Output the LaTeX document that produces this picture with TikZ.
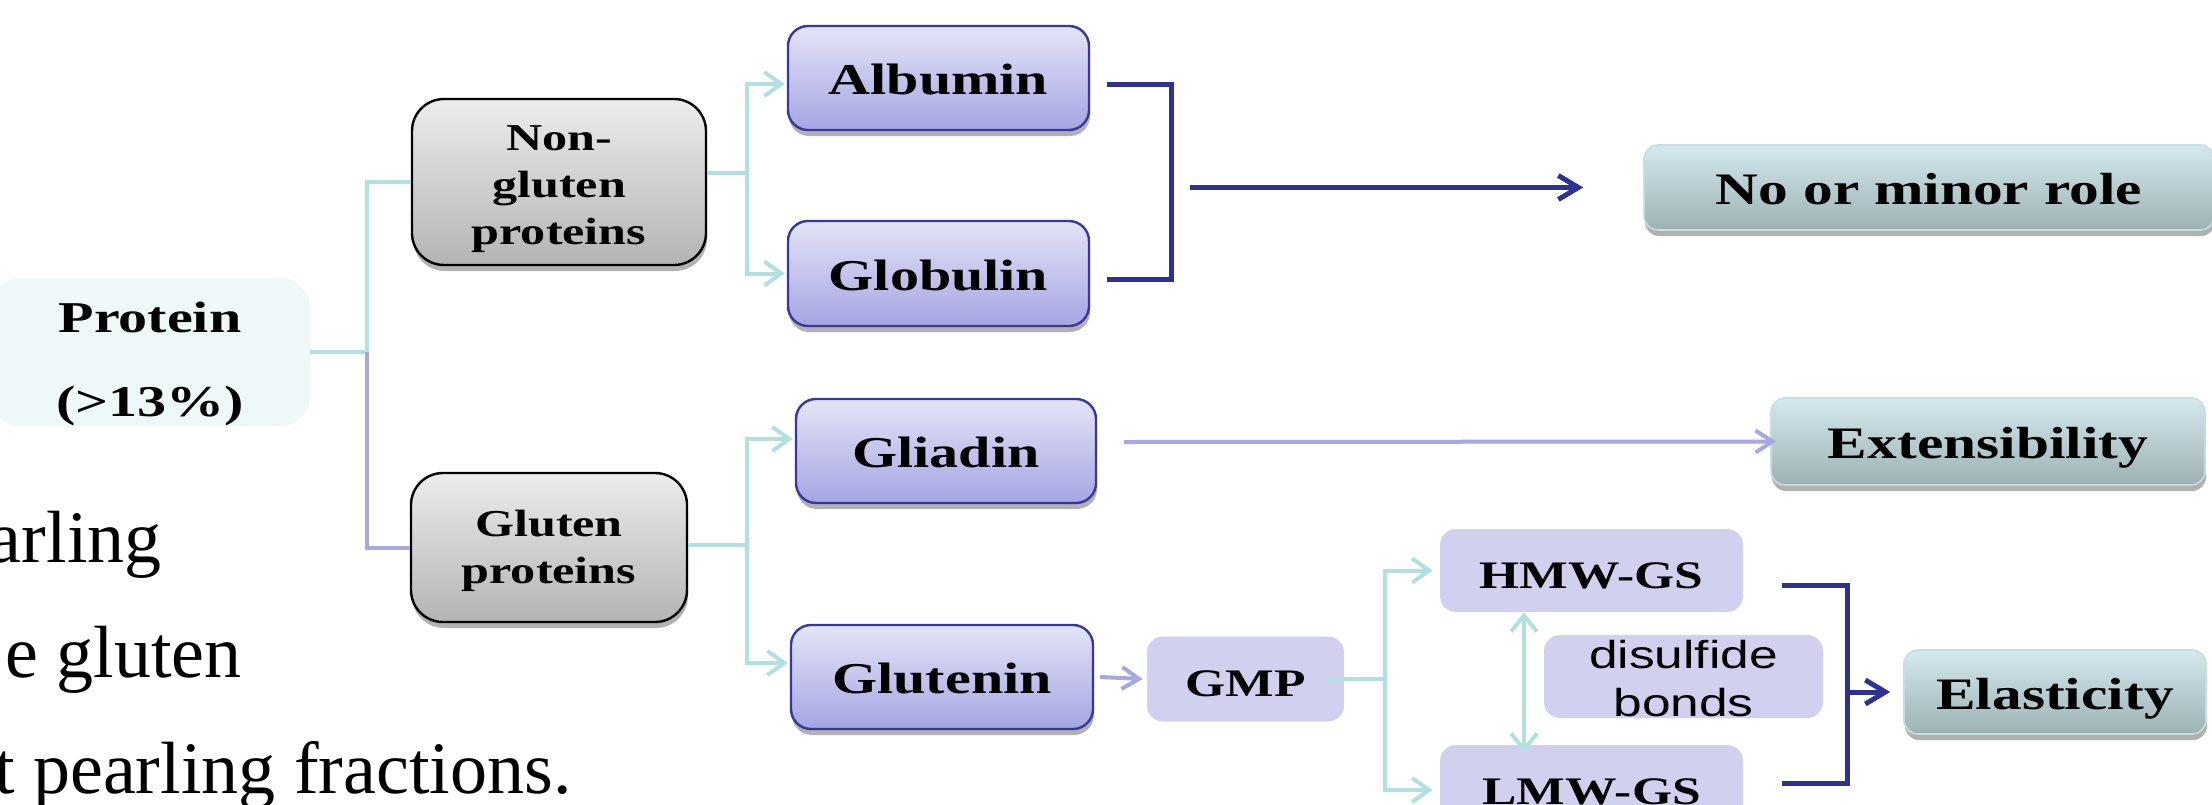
\documentclass[tikz,border=0pt]{standalone}
\usepackage{fontspec}
\setmainfont{Liberation Serif}
\newfontfamily\bxf[FakeStretch=1.32]{Liberation Serif}
\newfontfamily\sxf[FakeStretch=1.32]{Liberation Sans}
\usetikzlibrary{arrows.meta,shadows}
\definecolor{cyanln}{HTML}{B2DFDF}
\definecolor{purpln}{HTML}{A7A7E2}
\definecolor{dblue}{HTML}{2E3192}
\definecolor{pbord}{HTML}{38389C}
\definecolor{ptop}{HTML}{E4E4F7}
\definecolor{pbot}{HTML}{A5A5E3}
\definecolor{gtop}{HTML}{ECECEC}
\definecolor{gbot}{HTML}{B4B4B4}
\definecolor{ttop}{HTML}{D3E9ED}
\definecolor{tbot}{HTML}{9DB2B5}
\definecolor{tbord}{HTML}{C5DEE1}
\definecolor{lav}{HTML}{D1D1EF}
\definecolor{pfill}{HTML}{EFF8F8}
\tikzset{
  shd/.style={drop shadow={shadow xshift=0.5pt,shadow yshift=-3pt,opacity=0.3,fill=black}},
  basebox/.style={inner sep=0pt,align=center,text=black},
  protbox/.style={basebox,fill=pfill,rounded corners=15pt,font=\bxf\bfseries\fontsize{22}{42}\selectfont,text height=68.6pt,text depth=4pt},
  greybox/.style={basebox,shd,draw=black,line width=1.2pt,rounded corners=16pt,top color=gtop,bottom color=gbot,font=\bxf\bfseries\fontsize{19}{23.5}\selectfont},
  purpbox/.style={basebox,shd,draw=pbord,line width=1.2pt,rounded corners=10pt,top color=ptop,bottom color=pbot,font=\bxf\bfseries\fontsize{22}{26}\selectfont,text height=16.6pt,text depth=0pt},
  lavbox/.style={basebox,fill=lav,rounded corners=8pt,font=\bxf\bfseries\fontsize{19.5}{23}\selectfont,text height=17.9pt,text depth=0pt},
  sanslav/.style={basebox,fill=lav,rounded corners=8pt,font=\sxf\fontsize{19.5}{24}\selectfont,text height=40.2pt,text depth=0pt},
  tealbox/.style={basebox,shd,draw=tbord,line width=0.8pt,rounded corners=7pt,top color=ttop,bottom color=tbot,font=\bxf\bfseries\fontsize{22.5}{26}\selectfont,text height=17pt,text depth=0pt},
  bgtext/.style={inner sep=0pt,font=\fontsize{37}{44}\selectfont,text=black},
  cyanline/.style={draw=cyanln,line width=2pt},
  purpline/.style={draw=purpln,line width=2pt},
  cyanarr/.style={cyanline,-{Straight Barb[length=8.5pt,width=12pt]}},
  cyandbl/.style={cyanline,{Straight Barb[length=8pt,width=13pt]}-{Straight Barb[length=8pt,width=13pt]}},
  purparr/.style={purpline,-{Straight Barb[length=8.5pt,width=11pt]}},
  bracket/.style={draw=dblue,line width=2.5pt},
  bluearr/.style={draw=dblue,line width=2.5pt,-{Straight Barb[length=10pt,width=12pt]}}
}
\begin{document}
\begin{tikzpicture}[x=0.5pt,y=-0.5pt]
\useasboundingbox (0,0) rectangle (2212,804);
\clip (0,0) rectangle (2212,804);
\fill[white] (0,0) rectangle (2212,804);

% background slide text
\node[bgtext,anchor=base east] (bg1) at (162,562) {arling};
\node[bgtext,anchor=base east] (bg2) at (242,677) {e gluten};
\node[bgtext,anchor=base east] (bg3) at (572,793) {t pearling fractions.};

% connector junctions
\coordinate (j1) at (367,352);
\coordinate (j2) at (747,173);
\coordinate (j3) at (747,545);
\coordinate (j4) at (1385,679);
\coordinate (b1) at (1190,187.5);
\coordinate (b2) at (1847,692);
\coordinate (g1) at (1124,442);

% nodes
\node[protbox,minimum width=160pt,minimum height=74pt] (protein) at (150,352) {Protein\\(>13\%)};
\node[greybox,minimum width=147pt,minimum height=83pt,text height=66.6pt,text depth=4pt] (nong) at (559,182) {Non-\\gluten\\proteins};
\node[greybox,minimum width=138pt,minimum height=74.5pt,text height=40pt,text depth=4pt] (gluten) at (549,547.5) {Gluten\\proteins};
\node[purpbox,minimum width=150.5pt,minimum height=52pt] (albumin) at (938.5,78) {Albumin};
\node[purpbox,minimum width=150.5pt,minimum height=52.5pt] (globulin) at (938.5,273.5) {Globulin};
\node[purpbox,minimum width=150pt,minimum height=52pt] (gliadin) at (946,451) {Gliadin};
\node[purpbox,minimum width=151pt,minimum height=52pt] (glutenin) at (942,677) {Glutenin};
\node[lavbox,minimum width=98.5pt,minimum height=42.5pt] (gmp) at (1245.5,679) {GMP};
\node[lavbox,minimum width=151.5pt,minimum height=41.5pt] (hmw) at (1591.5,570.5) {HMW-GS};
\node[lavbox,minimum width=151.5pt,minimum height=41.5pt] (lmw) at (1591.5,786.5) {LMW-GS};
\node[sanslav,minimum width=139.5pt,minimum height=41.5pt] (disulf) at (1683.5,676.5) {disulfide\\bonds};
\node[tealbox,minimum width=285pt,minimum height=42.5pt] (nominor) at (1929,187.5) {No or minor role};
\node[tealbox,minimum width=217pt,minimum height=43.5pt] (extens) at (1988,441.5) {Extensibility};
\node[tealbox,minimum width=151pt,minimum height=42pt] (elast) at (2055,692) {Elasticity};

% connectors
\draw[cyanline] (protein.east) -- (j1) |- (nong.west);
\draw[purpline] (j1) |- (gluten.west);
\draw[cyanarr] (nong.east |- j2) -- (j2) |- ([xshift=-1pt,yshift=-3pt]albumin.west);
\draw[cyanarr] (j2) |- ([xshift=-1pt]globulin.west);
\draw[cyanline] (gluten.east |- j3) -- (j3);
\draw[cyanarr] (j3) |- ([xshift=-1pt,yshift=6pt]gliadin.west);
\draw[cyanarr] (j3) |- ([xshift=-1pt,yshift=7pt]glutenin.west);
\draw[bracket] ([xshift=8.5pt,yshift=-3pt]albumin.east) -| ([xshift=40.5pt,yshift=-2.75pt]globulin.east) -- ([xshift=8.5pt,yshift=-2.75pt]globulin.east);
\draw[bluearr] (b1) -- ([xshift=-30pt]nominor.west);
\draw[purparr] (g1) -- ([xshift=3pt]extens.west);
\draw[purparr] ([xshift=3pt]glutenin.east) -- ([xshift=-2pt]gmp.west);
\draw[cyanline] ([xshift=-8pt]gmp.east) -- (j4);
\draw[cyanarr] (j4) |- ([xshift=-3.5pt]hmw.west);
\draw[cyanarr] (j4) |- ([xshift=-3.5pt,yshift=-1.75pt]lmw.west);
\draw[cyandbl] ([xshift=-33.75pt]hmw.south) -- ([xshift=-33.75pt,yshift=-4pt]lmw.north);
\draw[bracket] ([xshift=19.5pt,yshift=-7.25pt]hmw.east) -| ([xshift=52pt,yshift=1.75pt]lmw.east) -- ([xshift=19.5pt,yshift=1.75pt]lmw.east);
\draw[bluearr] (b2) -- ([xshift=-6.5pt]elast.west);
\end{tikzpicture}
\end{document}
